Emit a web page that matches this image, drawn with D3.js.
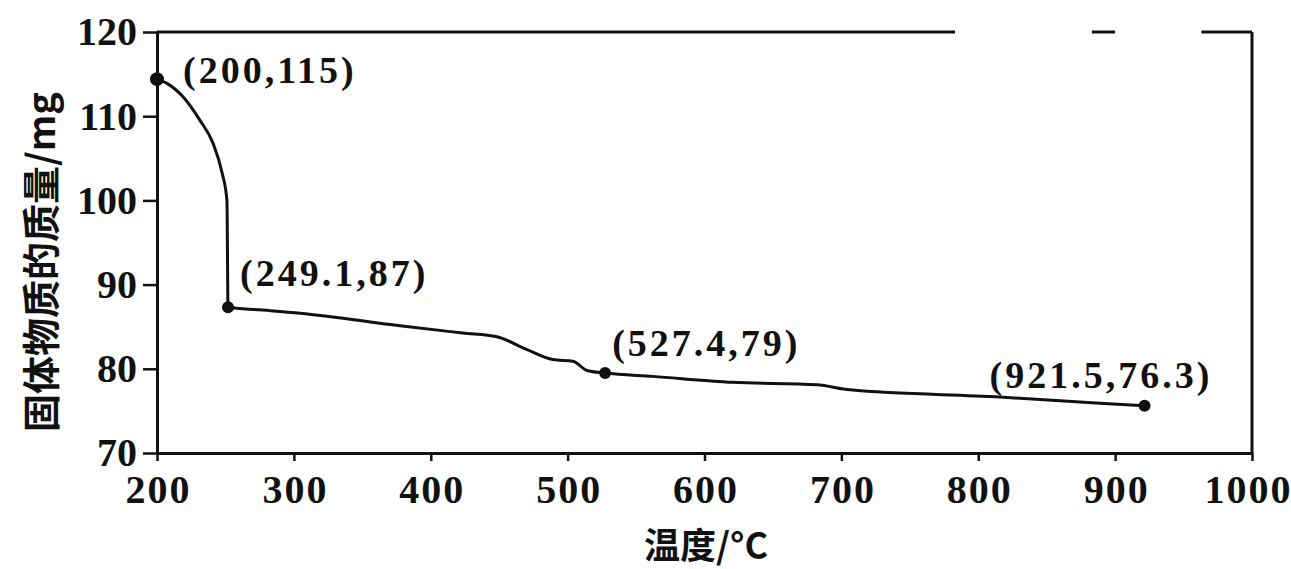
<!DOCTYPE html>
<html>
<head>
<meta charset="utf-8">
<script src="https://d3js.org/d3.v7.min.js"></script>
<style>
body { margin: 0; background: #fff; }
text { font-family: "Liberation Serif", "DejaVu Serif", serif; font-weight: bold; fill: #111; }
.cjk { font-family: "Noto Sans CJK SC", sans-serif; font-weight: 700; }
</style>
</head>
<body>
<svg id="chart" width="1291" height="569"></svg>
<script>
// temperature (°C) and solid mass (mg)
const temps = [200, 207.3, 219, 231.4, 240.9, 247.5, 251.1, 251.9, 275, 304.5,
  377.5, 423.5, 448.4, 470, 489.3, 503.9, 514.1, 527.4, 562.3, 620.7,
  682, 706.2, 815.8, 888.8, 921.5];
const mass = [114.4, 113.9, 112.3, 109.5, 106.8, 103.3, 100.0, 87.3, 87.0, 86.6,
  85.1, 84.25, 83.8, 82.3, 81.1, 80.9, 79.8, 79.5, 79.1, 78.4,
  78.1, 77.5, 76.65, 75.9, 75.6];

// marked points and their labels
const markT = [200, 251.9, 527.4, 921.5];
const markM = [114.4, 87.3, 79.5, 75.6];
const markLabels = ["(200,115)", "(249.1,87)", "(527.4,79)", "(921.5,76.3)"];

const xTicks = [200, 300, 400, 500, 600, 700, 800, 900, 1000];
const yTicks = [70, 80, 90, 100, 110, 120];

const svg = d3.select("#chart");
const pLeft = 157, pRight = 1252, pTop = 32, pBottom = 453;

const x = d3.scaleLinear().domain([200, 1000]).range([pLeft, pRight]);
const y = d3.scaleLinear().domain([70, 120]).range([pBottom, pTop]);

// x axis
const gx = svg.append("g")
  .attr("transform", "translate(0," + pBottom + ")")
  .call(d3.axisBottom(x).tickValues(xTicks).tickFormat(d3.format("d"))
    .tickSize(8).tickPadding(14).tickSizeOuter(0));
gx.select(".domain").attr("stroke", "#111").attr("stroke-width", 3);
gx.selectAll(".tick line").attr("stroke", "#111").attr("stroke-width", 2.5);
gx.selectAll(".tick text").attr("font-size", 40).attr("fill", "#111")
  .attr("font-family", "Liberation Serif").attr("font-weight", "bold")
  .attr("letter-spacing", 2).attr("dx", (d) => d == 1000 ? -4 : 1);

// y axis
const gy = svg.append("g")
  .attr("transform", "translate(" + pLeft + ",0)")
  .call(d3.axisLeft(y).tickValues(yTicks).tickSize(14).tickPadding(6).tickSizeOuter(0));
gy.select(".domain").attr("stroke", "#111").attr("stroke-width", 3);
gy.selectAll(".tick line").attr("stroke", "#111").attr("stroke-width", 2.5);
gy.selectAll(".tick text").attr("font-size", 40).attr("fill", "#111")
  .attr("font-family", "Liberation Serif").attr("font-weight", "bold");

// frame: right side and broken top edge
svg.append("line").attr("x1", pRight).attr("x2", pRight).attr("y1", pTop).attr("y2", pBottom)
  .attr("stroke", "#111").attr("stroke-width", 3);
[[200, 783], [883, 900], [963, 1000]].forEach(s => {
  svg.append("line").attr("x1", x(s[0])).attr("x2", x(s[1])).attr("y1", pTop).attr("y2", pTop)
    .attr("stroke", "#111").attr("stroke-width", 3);
});

// curve
const pts = temps.map((t, i) => [t, mass[i]]);
svg.append("path")
  .datum(pts)
  .attr("fill", "none")
  .attr("stroke", "#111")
  .attr("stroke-width", 3)
  .attr("d", d3.line().x(d => x(d[0])).y(d => y(d[1])).curve(d3.curveMonotoneX));

// markers
svg.selectAll(".mark")
  .data(markT)
  .enter().append("circle")
  .attr("class", "mark")
  .attr("cx", d => x(d))
  .attr("cy", (d, i) => y(markM[i]))
  .attr("r", (d, i) => i == 0 ? 7 : 6)
  .attr("fill", "#111");

// point labels
const labDx = [26, 12, 7, -155];
const labDy = [4, -21, -17, -18];
svg.selectAll(".lab")
  .data(markLabels)
  .enter().append("text")
  .attr("class", "lab")
  .attr("x", (d, i) => x(markT[i]) + labDx[i])
  .attr("y", (d, i) => y(markM[i]) + labDy[i])
  .attr("font-size", 38)
  .attr("letter-spacing", 3)
  .text(d => d);

// axis titles
svg.append("text").attr("class", "cjk")
  .attr("x", 706).attr("y", 559)
  .attr("text-anchor", "middle")
  .attr("font-size", 36)
  .text("温度/°C");

svg.append("text").attr("class", "cjk")
  .attr("transform", "translate(55,262) rotate(-90)")
  .attr("text-anchor", "middle")
  .attr("font-size", 38)
  .text("固体物质的质量/mg");
</script>
</body>
</html>
